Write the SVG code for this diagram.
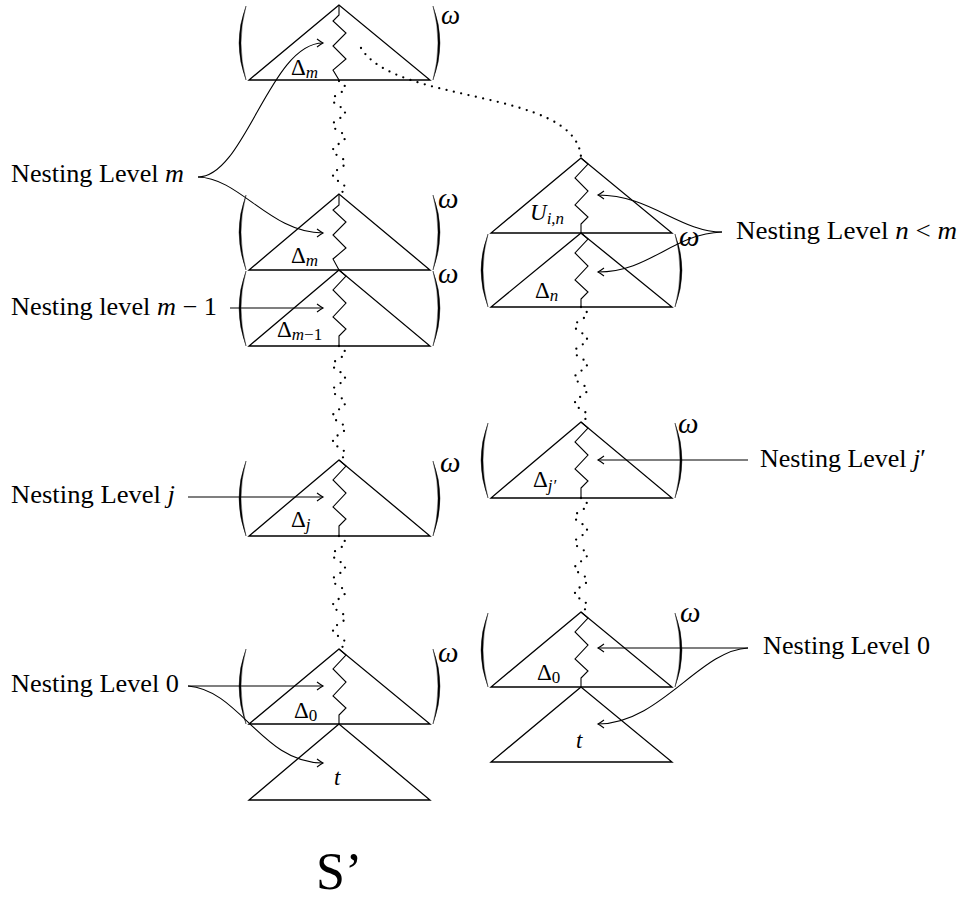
<svg xmlns="http://www.w3.org/2000/svg" width="962" height="902" viewBox="0 0 962 902">
<defs>
<style>
.tri{fill:none;stroke:#000;stroke-width:1.3;stroke-linejoin:miter}
.zz{fill:none;stroke:#000;stroke-width:1.1;stroke-linejoin:miter}
.par{fill:#000;stroke:#000;stroke-width:0.4}
.dot{fill:none;stroke:#000;stroke-width:2.3;stroke-linecap:round;stroke-dasharray:0 7.5}
.arr{fill:none;stroke:#000;stroke-width:1.1;marker-end:url(#ah)}
.lbl{font-family:"Liberation Serif",serif;font-size:25px;fill:#000}
.it{font-style:italic}
.d{font-family:"Liberation Serif",serif;font-size:23px;fill:#000}
.sub{font-size:17px}
.w{font-family:"Liberation Serif",serif;font-style:italic;font-size:29px;fill:#000}
.big{font-family:"Liberation Serif",serif;font-size:52px;fill:#000}
</style>
<marker id="ah" viewBox="-8 -5 10 10" refX="0" refY="0" markerWidth="10" markerHeight="10" markerUnits="userSpaceOnUse" orient="auto">
<path d="M-6,-4 Q-2,-1 0,0 Q-2,1 -6,4" fill="none" stroke="#000" stroke-width="1.1"/>
</marker>
</defs>

<g id="node-top-dm">
<path class="par" d="M246,6 Q232,43 246,80 Q236,43 246,6Z"/>
<path class="par" d="M433,6 Q447,43 433,80 Q443,43 433,6Z"/>
<polygon class="tri" points="339,5 249,80 430,80"/>
<path class="zz" d="M339,5 L339,15 L333,21 L346,33 L333,46 L346,59 L333,70 L339,80"/>
<text class="d" x="291" y="75">Δ<tspan class="sub it" dy="3">m</tspan></text>
<text class="w" x="441" y="24" style="font-size:27px">ω</text>
</g>

<g id="node-level-m">
<path class="par" d="M246,195 Q232,232 246,270 Q236,232 246,195Z"/>
<path class="par" d="M433,195 Q447,232 433,270 Q443,232 433,195Z"/>
<polygon class="tri" points="339,194 249,270 430,270"/>
<path class="zz" d="M339,194 L339,205 L333,210 L346,222 L333,235 L346,248 L333,259 L339,270"/>
<text class="d" x="291" y="263">Δ<tspan class="sub it" dy="3">m</tspan></text>
<text class="w" x="438" y="208">ω</text>
</g>

<g id="node-level-m1">
<path class="par" d="M246,271 Q232,308 246,346 Q236,308 246,271Z"/>
<path class="par" d="M433,271 Q447,308 433,346 Q443,308 433,271Z"/>
<polygon class="tri" points="339,270 249,346 430,346"/>
<path class="zz" d="M339,270 L346,276 L333,290 L346,303 L333,317 L346,329 L339,336 L339,346"/>
<text class="d" x="277" y="337">Δ<tspan class="sub" dy="3"><tspan class="it">m</tspan>−1</tspan></text>
<text class="w" x="438" y="283">ω</text>
</g>

<g id="node-level-j">
<path class="par" d="M246,461 Q232,498 246,536 Q236,498 246,461Z"/>
<path class="par" d="M433,461 Q447,498 433,536 Q443,498 433,461Z"/>
<polygon class="tri" points="339,460 249,536 430,536"/>
<path class="zz" d="M339,460 L346,466 L333,480 L346,493 L333,507 L346,519 L339,526 L339,536"/>
<text class="d" x="291" y="527">Δ<tspan class="sub it" dy="3">j</tspan></text>
<text class="w" x="440" y="472">ω</text>
</g>

<g id="node-level-0-left">
<path class="par" d="M246,649 Q232,686 246,724 Q236,686 246,649Z"/>
<path class="par" d="M433,649 Q447,686 433,724 Q443,686 433,649Z"/>
<polygon class="tri" points="339,649 249,724 430,724"/>
<path class="zz" d="M339,649 L346,655 L333,669 L346,682 L333,696 L346,708 L339,715 L339,724"/>
<text class="d" x="294" y="718">Δ<tspan class="sub" dy="3">0</tspan></text>
<text class="w" x="438" y="662">ω</text>
</g>

<g id="node-t-left">
<polygon class="tri" points="339,724 249,800 430,800"/>
<text class="d it" x="334" y="785">t</text>
</g>

<g id="node-u">
<polygon class="tri" points="581,158 491,233 672,233"/>
<path class="zz" d="M581,158 L588,164 L575,178 L588,191 L575,205 L588,217 L581,224 L581,233"/>
<text class="d" x="530" y="220"><tspan class="it">U</tspan><tspan class="sub" dy="4"><tspan class="it">i</tspan>,<tspan class="it">n</tspan></tspan></text>
</g>

<g id="node-level-n">
<path class="par" d="M488,234 Q474,270 488,307 Q478,270 488,234Z"/>
<path class="par" d="M675,234 Q689,270 675,307 Q685,270 675,234Z"/>
<polygon class="tri" points="581,233 491,307 672,307"/>
<path class="zz" d="M581,233 L588,239 L575,253 L588,266 L575,280 L588,292 L581,299 L581,307"/>
<text class="d" x="535" y="298">Δ<tspan class="sub it" dy="3">n</tspan></text>
<text class="w" x="679" y="246">ω</text>
</g>

<g id="node-level-jp">
<path class="par" d="M488,423 Q474,460 488,498 Q478,460 488,423Z"/>
<path class="par" d="M675,423 Q689,460 675,498 Q685,460 675,423Z"/>
<polygon class="tri" points="581,422 491,498 672,498"/>
<path class="zz" d="M581,422 L588,428 L575,442 L588,455 L575,469 L588,481 L581,488 L581,498"/>
<text class="d" x="533" y="487">Δ<tspan class="sub it" dy="4">j′</tspan></text>
<text class="w" x="678" y="433">ω</text>
</g>

<g id="node-level-0-right">
<path class="par" d="M488,613 Q474,650 488,687 Q478,650 488,613Z"/>
<path class="par" d="M675,613 Q689,650 675,687 Q685,650 675,613Z"/>
<polygon class="tri" points="581,612 491,687 672,687"/>
<path class="zz" d="M581,612 L588,618 L575,632 L588,645 L575,659 L588,671 L581,678 L581,687"/>
<text class="d" x="537" y="680">Δ<tspan class="sub" dy="3">0</tspan></text>
<text class="w" x="680" y="622">ω</text>
</g>

<g id="node-t-right">
<polygon class="tri" points="581,687 491,762 672,762"/>
<text class="d it" x="576" y="748">t</text>
</g>

<g id="label-m"><text class="lbl" x="11" y="182" textLength="173" lengthAdjust="spacingAndGlyphs">Nesting Level <tspan class="it">m</tspan></text></g>
<g id="label-m1"><text class="lbl" x="11" y="315" textLength="206" lengthAdjust="spacingAndGlyphs">Nesting level <tspan class="it">m</tspan> − 1</text></g>
<g id="label-j"><text class="lbl" x="11" y="503" textLength="164" lengthAdjust="spacingAndGlyphs">Nesting Level <tspan class="it">j</tspan></text></g>
<g id="label-0-left"><text class="lbl" x="11" y="692" textLength="168" lengthAdjust="spacingAndGlyphs">Nesting Level 0</text></g>
<g id="label-n"><text class="lbl" x="736" y="239" textLength="221" lengthAdjust="spacingAndGlyphs">Nesting Level <tspan class="it">n</tspan> &lt; <tspan class="it">m</tspan></text></g>
<g id="label-jp"><text class="lbl" x="760" y="467" textLength="166" lengthAdjust="spacingAndGlyphs">Nesting Level <tspan class="it">j</tspan>′</text></g>
<g id="label-0-right"><text class="lbl" x="763" y="654" textLength="167" lengthAdjust="spacingAndGlyphs">Nesting Level 0</text></g>
<g id="label-s"><text class="big" x="316" y="889">S’</text></g>

<g id="connectors">
<path class="dot" d="M361,48 C395,105 575,88 581,157"/>
<path class="dot" d="M339,81 q12,6.28 0,12.56 t0,12.56 t0,12.56 t0,12.56 t0,12.56 t0,12.56 t0,12.56 t0,12.56 t0,12.56"/>
<path class="dot" d="M339,346 q12,6.33 0,12.67 t0,12.67 t0,12.67 t0,12.67 t0,12.67 t0,12.67 t0,12.67 t0,12.67 t0,12.67"/>
<path class="dot" d="M339,536 q12,6.28 0,12.56 t0,12.56 t0,12.56 t0,12.56 t0,12.56 t0,12.56 t0,12.56 t0,12.56 t0,12.56"/>
<path class="dot" d="M581,307 q12,6.39 0,12.78 t0,12.78 t0,12.78 t0,12.78 t0,12.78 t0,12.78 t0,12.78 t0,12.78 t0,12.78"/>
<path class="dot" d="M581,498 q12,6.33 0,12.67 t0,12.67 t0,12.67 t0,12.67 t0,12.67 t0,12.67 t0,12.67 t0,12.67 t0,12.67"/>
<path class="arr" d="M198,177 C245,177 270,43 323,43"/>
<path class="arr" d="M198,177 C240,178 270,233 323,233"/>
<path class="arr" d="M230,308 L323,308"/>
<path class="arr" d="M188,497 L323,497"/>
<path class="arr" d="M188,686 L323,686"/>
<path class="arr" d="M188,686 C240,690 262,763 323,763"/>
<path class="arr" d="M722,232 C680,232 650,195 598,195"/>
<path class="arr" d="M722,232 C672,234 650,272 598,272"/>
<path class="arr" d="M748,460 L598,460"/>
<path class="arr" d="M748,648 L598,648"/>
<path class="arr" d="M748,648 C700,650 660,724 598,724"/>
</g>
</svg>
